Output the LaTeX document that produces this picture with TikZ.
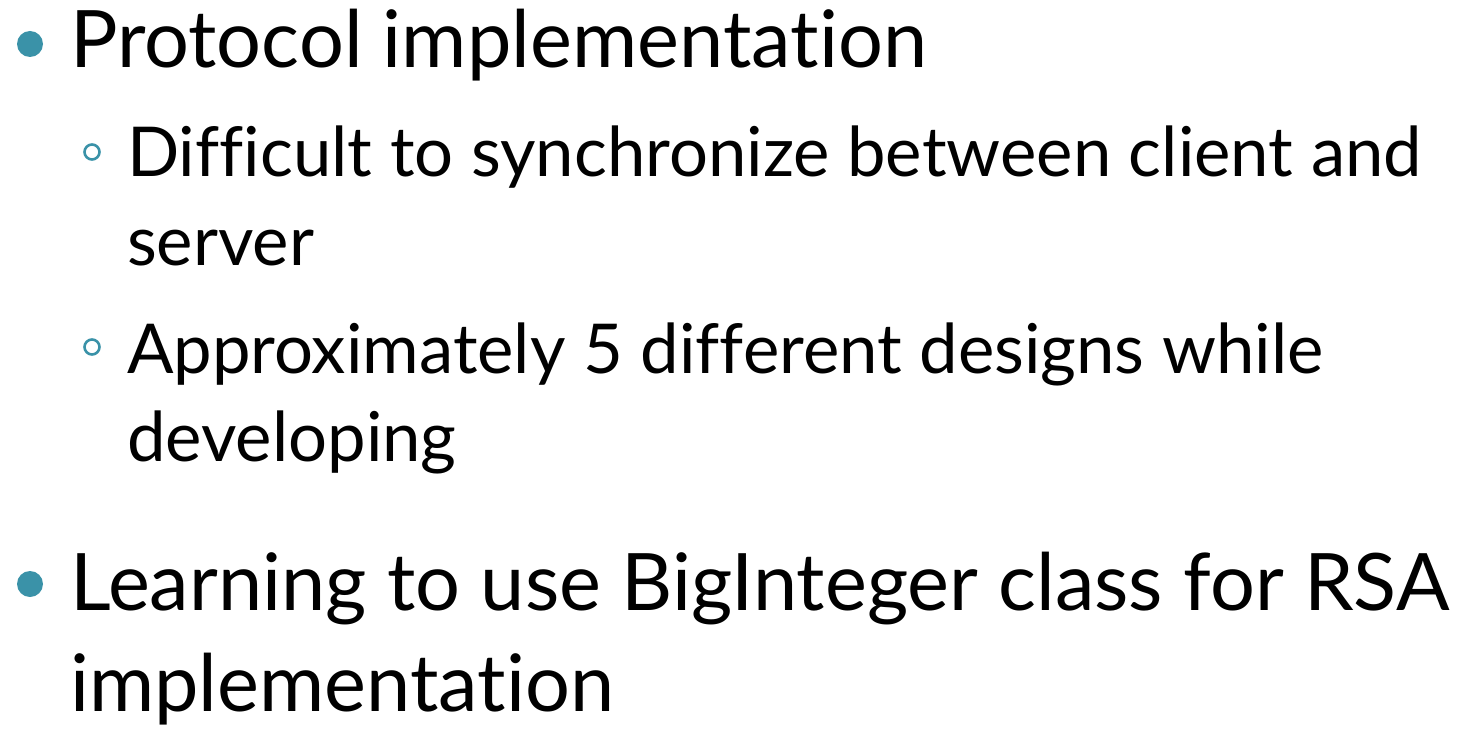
\documentclass[tikz,border=0pt]{standalone}
\usepackage{fontspec}
\setmainfont{Lato}[Ligatures={NoCommon}]
\definecolor{bulletteal}{RGB}{58,146,168}
\begin{document}
\begin{tikzpicture}[x=1pt,y=-1pt,
  mainline/.style={anchor=base west,inner sep=0pt,font=\fontsize{79.3}{100}\selectfont},
  subline/.style={anchor=base west,inner sep=0pt,font=\fontsize{68.8}{88}\selectfont},
  dotbullet/.style={circle,fill=bulletteal,inner sep=0pt,minimum size=26pt},
  ringbullet/.style={circle,draw=bulletteal,line width=2.6pt,inner sep=0pt,minimum size=15pt}]
\useasboundingbox (0,0) rectangle (1472,730);
\node[dotbullet] (b1) at (30,44) {};
\node[mainline] (t1) at (70,68) {Protocol implementation};
\node[ringbullet] (s1) at (92,152) {};
\node[subline] (t2a) at (127,177) {Difficult to synchronize between client and};
\node[subline] (t2b) at (127,265) {server};
\node[ringbullet] (s2) at (92,347) {};
\node[subline] (t3a) at (127,373) {Approximately 5 different designs while};
\node[subline] (t3b) at (127,461) {developing};
\node[dotbullet] (b2) at (30,584) {};
\node[mainline] (t4a) at (70,610) {Learning to use BigInteger class for RSA};
\node[mainline] (t4b) at (70,711) {implementation};
\end{tikzpicture}
\end{document}
